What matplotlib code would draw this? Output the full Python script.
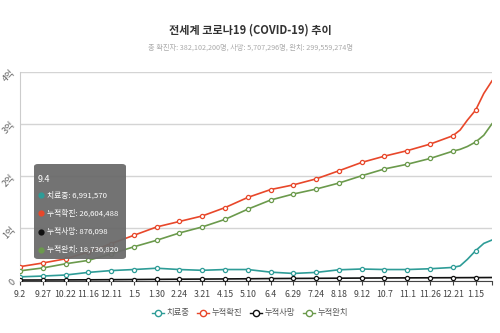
import numpy as np
import matplotlib
matplotlib.use("Agg")
import matplotlib.pyplot as plt
from matplotlib.lines import Line2D
from matplotlib.patches import FancyBboxPatch

plt.rcParams['font.family'] = ['Liberation Sans Narrow', 'Noto Sans CJK KR', 'DejaVu Sans']

# daily data (millions of people)
dates = ['2020-09-02', '2020-09-27', '2020-10-22', '2020-11-16', '2020-12-11',
         '2021-01-05', '2021-01-30', '2021-02-24', '2021-03-21', '2021-04-15',
         '2021-05-10', '2021-06-04', '2021-06-29', '2021-07-24', '2021-08-18',
         '2021-09-12', '2021-10-07', '2021-11-01', '2021-11-26', '2021-12-21',
         '2021-12-29', '2022-01-06', '2022-01-15', '2022-01-24', '2022-02-02']
treating = [7.0, 8.5, 10.5, 15.5, 19, 21, 23.5, 21, 19.5, 21, 21, 16, 13.5, 15.5,
            20.5, 22, 21, 21, 22.5, 25, 28, 40.5, 57, 71, 77.5]
confirmed = [26.5, 33.5, 41.5, 54.5, 70.5, 86.5, 102.5, 113, 123.5, 139.5, 159, 174,
             183, 194.5, 210, 226, 238, 248.5, 261, 277, 288, 307, 326, 358, 382.1]
deaths = [0.87, 1.0, 1.14, 1.32, 1.59, 1.87, 2.2, 2.5, 2.73, 3.0, 3.3, 3.72, 3.95,
          4.16, 4.42, 4.66, 4.86, 5.02, 5.19, 5.37, 5.42, 5.48, 5.55, 5.62, 5.71]
recovered = [18.5, 24, 32, 38.5, 51, 64.5, 77, 91, 102.5, 117, 136.5, 154, 165.5, 175,
             186.5, 200.5, 213.5, 222.5, 233.5, 247.5, 251, 256.5, 265, 278, 300]

series_names = ['치료중', '누적확진', '누적사망', '누적완치']
colors = ['#2e9c97', '#e8472a', '#111111', '#6b9a4c']

tick_dates = ['2020-09-02', '2020-09-27', '2020-10-22', '2020-11-16', '2020-12-11',
              '2021-01-05', '2021-01-30', '2021-02-24', '2021-03-21', '2021-04-15',
              '2021-05-10', '2021-06-04', '2021-06-29', '2021-07-24', '2021-08-18',
              '2021-09-12', '2021-10-07', '2021-11-01', '2021-11-26', '2021-12-21',
              '2022-01-15']
tick_labels = ['9.2', '9.27', '10.22', '11.16', '12.11', '1.5', '1.30', '2.24', '3.21',
               '4.15', '5.10', '6.4', '6.29', '7.24', '8.18', '9.12', '10.7', '11.1',
               '11.26', '12.21', '1.15']
y_labels = ['0', '1억', '2억', '3억', '4억']

tip_date = '9.4'
tip_values = ['6,991,570', '26,604,488', '876,098', '18,736,820']

x = np.array(dates, dtype='datetime64[D]')
xt = np.array(tick_dates, dtype='datetime64[D]')
marks = [i for i, d in enumerate(x) if d in xt]

W, H = 500, 333
fig = plt.figure(figsize=(5, 3.33), dpi=100)
ax = fig.add_axes([20 / W, 52.5 / H, 472 / W, 209 / H])

for vals, c in zip([treating, confirmed, deaths, recovered], colors):
    v = np.array(vals) * 1e6
    ax.plot(x, v, color=c, lw=1.2, zorder=3)
    ax.plot(x[marks], v[marks], ls='none', marker='o', ms=3, mfc='white',
            mec=c, mew=0.9, zorder=4)

ax.set_xlim(x[0], x[-1])
ax.set_ylim(0, 4e8)
ax.set_yticks([0, 1e8, 2e8, 3e8, 4e8])
ax.set_yticklabels(y_labels, rotation=45, color='#666666', fontsize=6.5)
ax.set_xticks(list(xt) + [x[-1]])
ax.set_xticklabels(tick_labels + [''], color='#444444', fontsize=6.3)
ax.tick_params(axis='x', length=3, color='#444444', pad=4)
ax.tick_params(axis='y', length=0, pad=2)
ax.grid(axis='y', color='#d4d4d4', lw=1)
ax.set_axisbelow(True)
for s in ['top', 'right']:
    ax.spines[s].set_visible(False)
ax.spines['left'].set_color('#cccccc')
ax.spines['bottom'].set_color('#444444')

fig.text(0.5, 1 - 30 / H, '전세계 코로나19 (COVID-19) 추이', ha='center', va='center',
         fontsize=8, fontweight='bold', color='#333333')
fig.text(0.5, 1 - 48 / H, '총 확진자: 382,102,200명, 사망: 5,707,296명, 완치: 299,559,274명',
         ha='center', va='center', fontsize=5.2, color='#aaaaaa')

# tooltip
box = FancyBboxPatch((34 / W, 1 - 259 / H), 92 / W, 95 / H,
                     boxstyle='round,pad=0,rounding_size=0.008',
                     transform=fig.transFigure, facecolor='#6b6b6b',
                     edgecolor='none', alpha=0.95, zorder=10)
fig.patches.append(box)
fig.text(38 / W, 1 - 179 / H, tip_date, color='white', fontsize=6.5, va='center', zorder=11)
for i, (name, val, c) in enumerate(zip(series_names, tip_values, colors)):
    yy = 1 - (195 + i * 18.3) / H
    fig.lines.append(Line2D([41 / W], [yy], transform=fig.transFigure, marker='o',
                            ms=4.5, color=c, mec='none', zorder=11))
    fig.text(47 / W, yy, name + ': ' + val, color='white', fontsize=5.6, va='center',
             zorder=11)

handles = [Line2D([], [], color=c, lw=1, marker='o', ms=4.5, mfc='white', mec=c)
           for c in colors]
fig.legend(handles, series_names, loc='center', bbox_to_anchor=(0.5, 1 - 313 / H),
           ncol=4, frameon=False, fontsize=6, handlelength=1.5, columnspacing=0.9,
           handletextpad=0.3, labelcolor='#555555')

fig.savefig('out.png', dpi=100)
